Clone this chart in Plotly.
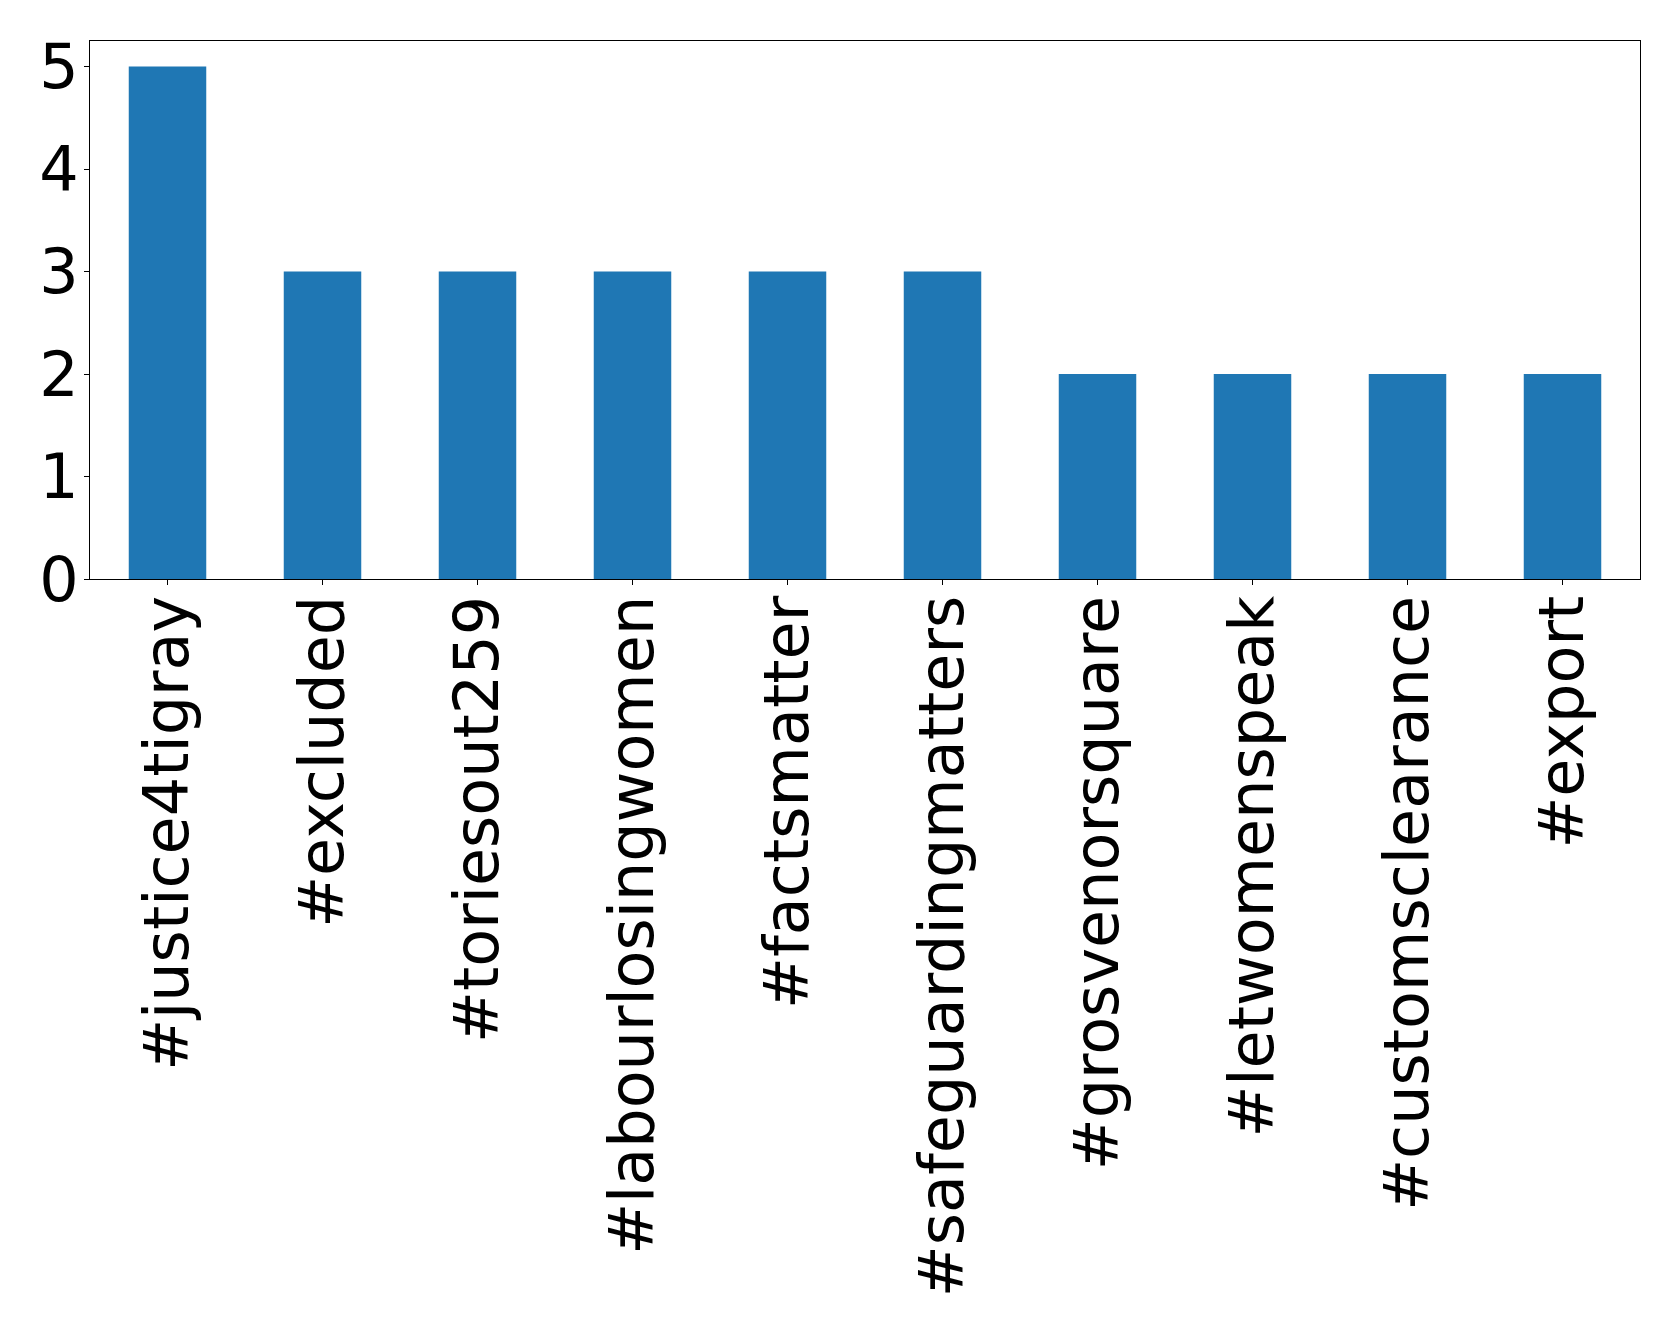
import plotly.graph_objects as go

hashtags = ["#justice4tigray", "#excluded", "#toriesout259", "#labourlosingwomen",
            "#factsmatter", "#safeguardingmatters", "#grosvenorsquare",
            "#letwomenspeak", "#customsclearance", "#export"]
counts = [5, 3, 3, 3, 3, 3, 2, 2, 2, 2]
y_ticks = [0, 1, 2, 3, 4, 5]

fig = go.Figure(go.Bar(x=list(range(len(hashtags))), y=counts, width=0.5,
                       marker=dict(color="#1f77b4", line=dict(width=0))))

W, H = 1679, 1335
fig.update_layout(
    width=W, height=H,
    margin=dict(l=90, r=39, t=41, b=756, pad=0),
    paper_bgcolor="white", plot_bgcolor="white",
    font=dict(family="DejaVu Sans", size=62, color="black"),
    showlegend=False,
)
fig.update_xaxes(
    range=[-0.5, len(hashtags) - 0.5],
    tickmode="array", tickvals=list(range(len(hashtags))), ticktext=hashtags,
    tickangle=-90, ticks="outside", ticklen=5, tickwidth=1, tickcolor="black",
    showline=True, linecolor="black", linewidth=1, mirror=True,
    showgrid=False, zeroline=False, ticklabelstandoff=-14,
)
fig.update_yaxes(
    range=[0, 5.25],
    tickmode="array", tickvals=y_ticks, ticktext=[str(v) for v in y_ticks],
    ticks="outside", ticklen=5, tickwidth=1, tickcolor="black",
    showline=True, linecolor="black", linewidth=1, mirror=True,
    showgrid=False, zeroline=False, ticklabelstandoff=-7,
)
fig.write_html("out.html",
               config={"displayModeBar": False},
               post_script="document.body.style.margin='0';document.body.style.overflow='hidden';")
